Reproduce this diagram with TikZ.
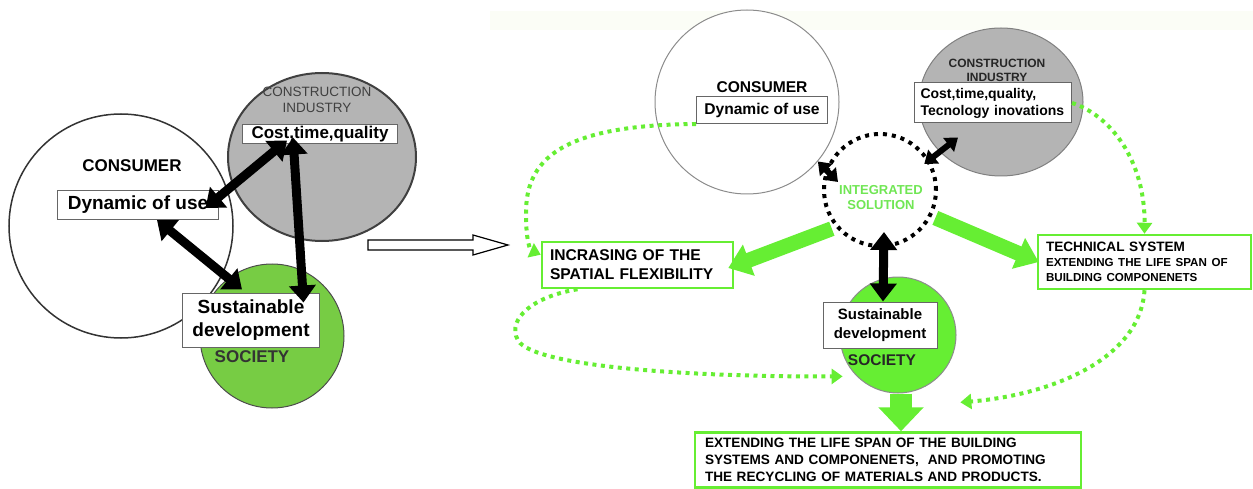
\documentclass[tikz,border=0pt]{standalone}
\usepackage{fontspec}
\setmainfont{Liberation Sans}
\usetikzlibrary{arrows.meta,shapes.geometric}

\definecolor{gris}{RGB}{180,180,180}
\definecolor{vertsombre}{RGB}{119,204,68}
\definecolor{vertvif}{RGB}{102,238,51}
\definecolor{vertpale}{RGB}{112,230,84}
\definecolor{bande}{RGB}{251,253,246}

\tikzstyle{rond} = [circle, draw=black!70, line width=1pt, inner sep=0pt]
\tikzstyle{ovale} = [ellipse, draw=black!70, line width=1pt, inner sep=0pt]
\tikzstyle{boite} = [rectangle, draw=black!60, line width=1pt, fill=white, align=center, inner sep=1pt]
\tikzstyle{boiteverte} = [rectangle, draw=vertvif, line width=2.5pt, fill=white, align=left, inner xsep=8pt]
\tikzstyle{fleche} = [line width=6pt, {Triangle[length=12pt,width=17pt]}-{Triangle[length=12pt,width=17pt]}]
\tikzstyle{grossefleche} = [line width=9pt, {Triangle[length=17pt,width=26pt]}-{Triangle[length=17pt,width=26pt]}]
\tikzstyle{flecheverte} = [vertvif, line width=15pt, -{Triangle[length=22pt,width=32pt]}]
\tikzstyle{pointille} = [vertvif, line width=4pt, dash pattern=on 4pt off 4.5pt, -{Triangle[length=11pt,width=15pt]}]

\begin{document}
\begin{tikzpicture}[x=1pt, y=-1pt]
    \useasboundingbox (0,0) rectangle (1253,489);

    %  gauche : situation actuelle
    \node [ovale, minimum width=188, minimum height=168, fill=gris, draw=black!75, line width=2pt] (I1) at (322,157) {};
    \node [rond, minimum size=144, fill=vertsombre] (S1) at (272,336) {};
    \node [rond, minimum size=224, fill=white, draw=black!80, line width=1.5pt] (C1) at (121,226) {};

    \node [text=black!75, align=center, font=\fontsize{13.5}{16}\selectfont] (TI1) at (317,100) {CONSTRUCTION\\INDUSTRY};
    \node [boite, minimum width=155, minimum height=19, font=\bfseries\fontsize{17}{20}\selectfont] (Cost1) at (320,134) {Cost,time,quality};
    \node [font=\bfseries\fontsize{17}{20}\selectfont] (TC1) at (132,166) {CONSUMER};
    \node [boite, minimum width=161, minimum height=29, font=\bfseries\fontsize{19}{22}\selectfont] (Dyn1) at (138,205) {Dynamic of use};
    \node [boite, minimum width=137, minimum height=54, font=\bfseries\fontsize{19}{23}\selectfont] (Sus1) at (251,320) {Sustainable\\development};
    \node [text=black!80, font=\bfseries\fontsize{17}{20}\selectfont] (TS1) at (252,357) {SOCIETY};

    \draw[grossefleche] ([xshift=-33,yshift=3.5]Cost1.south) -- ([xshift=-13.5,yshift=-3]Dyn1.east);
    \draw[grossefleche] ([xshift=19]Dyn1.south) -- ([xshift=-9,yshift=3]Sus1.north);
    \draw[grossefleche] ([xshift=-27,yshift=6.5]Cost1.south) -- ([xshift=-16.5,yshift=-10]Sus1.north east);

    %-------------------------------------------------------------
    % fleche creuse
    \draw[line width=1.2pt, fill=white] (368,240) -- (473,240) -- (473,235) -- (508,245) -- (473,255) -- (473,250) -- (368,250) -- cycle;

    %-------------------------------------------------------------
    %  droite : solution integree
    \fill[bande] (490,11) rectangle (1253,30);
    \node [rond, minimum size=184, fill=white, draw=black!45] (C2) at (747,102) {};
    \node [ovale, minimum width=164, minimum height=148, fill=gris, draw=black!50] (I2) at (1001,102) {};
    \node [rond, minimum size=116, fill=vertvif, draw=black!45] (S2) at (898,335) {};
    \node [circle, draw=black, line width=4pt, dash pattern=on 4pt off 5pt, minimum size=112, inner sep=0pt] (Integ) at (880,190) {};
    \node [text=vertpale, align=center, font=\bfseries\fontsize{13}{15}\selectfont] (TInt) at (881,198) {INTEGRATED\\SOLUTION};

    \node [font=\bfseries\fontsize{15.6}{18}\selectfont] (TC2) at (762,87) {CONSUMER};
    \node [boite, minimum width=131, minimum height=27, font=\bfseries\fontsize{15.6}{18}\selectfont] (Dyn2) at (762,110) {Dynamic of use};
    \node [text=black!85, align=center, font=\bfseries\fontsize{12}{14}\selectfont] (TI2) at (997,70) {CONSTRUCTION\\INDUSTRY};
    \node [boite, align=left, text width=145, inner xsep=6pt, minimum height=40, font=\bfseries\fontsize{14}{17}\selectfont] (Cost2) at (993,103) {Cost,time,quality,\\Tecnology inovations};
    \node [boite, minimum width=114, minimum height=46, font=\bfseries\fontsize{15}{19}\selectfont] (Sus2) at (880,325) {Sustainable\\development};
    \node [text=black!85, font=\bfseries\fontsize{15.5}{18}\selectfont] (TS2) at (882,360) {SOCIETY};

    \node [boiteverte, text width=175, minimum height=46, font=\bfseries\fontsize{15.6}{19}\selectfont] (Incr) at (637.5,265) {INCRASING OF THE\\SPATIAL FLEXIBILITY};
    \node [boiteverte, text width=197, minimum height=54, font=\bfseries\fontsize{13.6}{15}\selectfont] (Tech) at (1144.5,262) {TECHNICAL SYSTEM\\\fontsize{11.6}{15}\selectfont EXTENDING THE LIFE SPAN OF\\BUILDING COMPONENETS};
    \node [boiteverte, text width=366, inner xsep=10pt, minimum height=55, font=\bfseries\fontsize{13.6}{16.7}\selectfont] (Bot) at (888,460) {EXTENDING THE LIFE SPAN OF THE BUILDING\\SYSTEMS AND COMPONENETS,\ \ AND PROMOTING\\THE RECYCLING OF MATERIALS AND PRODUCTS.};

    % fleches
    \draw[fleche] (C2.320) -- ([xshift=16,yshift=8]Integ.west);
    \draw[fleche] ([xshift=-35,yshift=-14]Cost2.south) -- ([xshift=-6,yshift=-3]Integ.30);
    \draw[fleche, line width=9pt, {Triangle[length=18pt,width=26pt]}-{Triangle[length=18pt,width=26pt]}] ([xshift=4,yshift=16]Integ.south) -- ([xshift=3]Sus2.north);

    \draw[flecheverte, shorten <=4pt] (Integ.220) -- ([xshift=-6,yshift=-3]Incr.east);
    \draw[flecheverte, shorten <=4pt] (Integ.333) -- ([xshift=2]Tech.west);
    \draw[flecheverte, line width=22pt, -{Triangle[length=24pt,width=44pt]}] ([xshift=3]S2.south) -- ([xshift=3]S2.south |- Bot.north);

    % pointilles
    \draw[pointille] (Dyn2.south west) .. controls (560,125) and (525,160) .. (526,215) .. controls (526,240) and (530,250) .. ([yshift=-14]Incr.north west);
    \draw[pointille] ([xshift=-60]Incr.south) .. controls (525,298) and (505,325) .. (520,343) .. controls (545,368) and (700,377) .. ([xshift=-14]S2.south west);
    \draw[pointille] (Cost2.east) .. controls (1110,115) and (1145,160) .. (Tech.north);
    \draw[pointille] (Tech.south) .. controls (1140,360) and (1050,395) .. ([xshift=21,yshift=-26]S2.south east);

\end{tikzpicture}
\end{document}
